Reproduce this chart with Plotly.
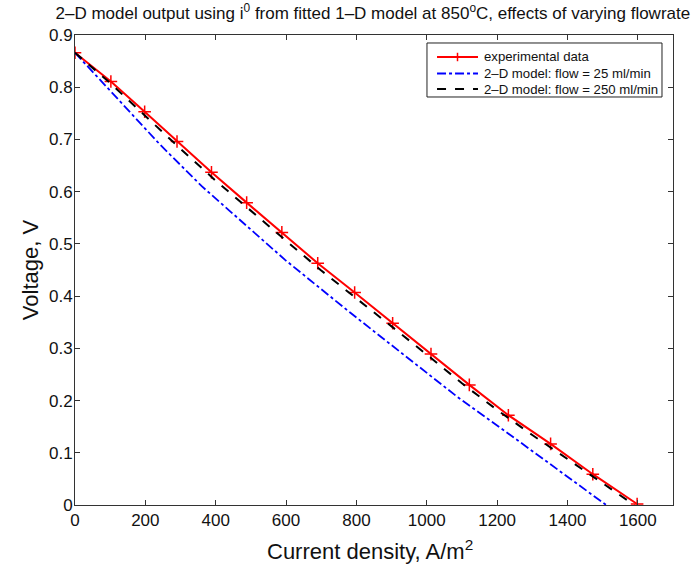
import plotly.graph_objects as go

# Experimental data (current density A/m^2, voltage V)
exp_i = [0, 102, 198, 290, 388, 488, 588, 690, 795, 903, 1012, 1121, 1232, 1352, 1472, 1598]
exp_v = [0.866, 0.811, 0.753, 0.696, 0.637, 0.579, 0.522, 0.463, 0.407, 0.348, 0.289, 0.230, 0.172, 0.117, 0.059, 0.002]

# 2-D model, flow = 25 ml/min
m25_i = [0, 120, 242, 361, 598, 783, 1087, 1258, 1510]
m25_v = [0.866, 0.778, 0.690, 0.610, 0.469, 0.368, 0.207, 0.124, 0.0]

# 2-D model, flow = 250 ml/min
m250_i = [0, 100, 200, 300, 400, 500, 600, 700, 800, 900, 1000, 1100, 1200, 1300, 1400, 1500, 1590]
m250_v = [0.866, 0.808, 0.745, 0.682, 0.621, 0.563, 0.506, 0.449, 0.396, 0.342, 0.288, 0.233, 0.182, 0.134, 0.088, 0.041, 0.0]

x_ticks = [0, 200, 400, 600, 800, 1000, 1200, 1400, 1600]
y_ticks = [0, 0.1, 0.2, 0.3, 0.4, 0.5, 0.6, 0.7, 0.8, 0.9]

names = ["experimental data", "2–D model: flow = 25 ml/min", "2–D model: flow = 250 ml/min"]
colors = ["#ff0000", "#0000ff", "#000000"]
dashes = ["solid", "dashdot", "dash"]
widths = [2, 1.8, 2]

FONT = "Liberation Sans, Arial, sans-serif"

fig = go.Figure()
fig.add_trace(go.Scatter(
    x=exp_i, y=exp_v, mode="lines+markers", name=names[0],
    line=dict(color=colors[0], width=widths[0], dash=dashes[0]),
    marker=dict(symbol="cross-thin", size=9, line=dict(color=colors[0], width=1.5), color=colors[0]),
))
fig.add_trace(go.Scatter(
    x=m25_i, y=m25_v, mode="lines", name=names[1],
    line=dict(color=colors[1], width=widths[1], dash=dashes[1]),
))
fig.add_trace(go.Scatter(
    x=m250_i, y=m250_v, mode="lines", name=names[2],
    line=dict(color=colors[2], width=widths[2], dash=dashes[2]),
))

axis_common = dict(
    showgrid=False, zeroline=False, showline=True, linecolor="#333333", linewidth=1,
    mirror="ticks", ticks="inside", ticklen=5, tickcolor="#333333", automargin=False,
    tickfont=dict(family=FONT, size=17, color="#111111"),
)

# Legend drawn as a box with sample lines and text (paper coordinates)
LX0, LX1, LY0, LY1 = 0.5886, 0.9816, 0.8681, 0.9830
row_y = [0.9532, 0.9181, 0.8851]
sx0, sx1, tx = 0.6054, 0.6739, 0.6806

shapes = [dict(type="rect", xref="paper", yref="paper", x0=LX0, x1=LX1, y0=LY0, y1=LY1,
               line=dict(color="#222222", width=1), fillcolor="white", layer="above")]
annotations = []
for k in range(3):
    shapes.append(dict(type="line", xref="paper", yref="paper", x0=sx0, x1=sx1, y0=row_y[k], y1=row_y[k],
                       line=dict(color=colors[k], width=widths[k], dash=dashes[k]), layer="above"))
    annotations.append(dict(text=names[k], xref="paper", yref="paper", x=tx, y=row_y[k],
                            xanchor="left", yanchor="middle", showarrow=False,
                            font=dict(family=FONT, size=13.2, color="#111111")))
# '+' marker on the experimental-data sample
mx = (sx0 + sx1) / 2
shapes.append(dict(type="line", xref="paper", yref="paper", x0=mx, x1=mx,
                   y0=row_y[0] - 0.009, y1=row_y[0] + 0.009,
                   line=dict(color=colors[0], width=1.5), layer="above"))

annotations += [
    dict(text="Current density, A/m<sup>2</sup>", xref="paper", yref="paper",
         x=0.493, y=-0.062, xanchor="center", yanchor="top", showarrow=False,
         font=dict(family=FONT, size=22, color="#111111")),
    dict(text="Voltage, V", xref="paper", yref="paper", textangle=-90,
         x=-0.075, y=0.5, xanchor="center", yanchor="middle", showarrow=False,
         font=dict(family=FONT, size=22, color="#111111")),
]

fig.update_layout(
    width=693, height=568,
    margin=dict(l=75, r=20, t=35, b=63),
    paper_bgcolor="white", plot_bgcolor="white",
    font=dict(family=FONT, color="#111111"),
    title=dict(
        text="2–D model output using i<sup>0</sup> from fitted 1–D model at 850<sup>o</sup>C, effects of varying flowrate",
        x=0.538, xanchor="center", y=0.977, yanchor="middle",
        font=dict(family=FONT, size=17, color="#111111"),
    ),
    xaxis=dict(range=[0, 1700], tickvals=x_ticks, ticktext=[str(t) for t in x_ticks], **axis_common),
    yaxis=dict(range=[0, 0.9], tickvals=y_ticks, ticktext=["0" if t == 0 else f"{t:.1f}" for t in y_ticks],
               ticklabelstandoff=-2, **axis_common),
    shapes=shapes,
    annotations=annotations,
    showlegend=False,
)

fig.write_html("out.html", config={"displayModeBar": False},
               post_script="document.body.style.margin='0';")
